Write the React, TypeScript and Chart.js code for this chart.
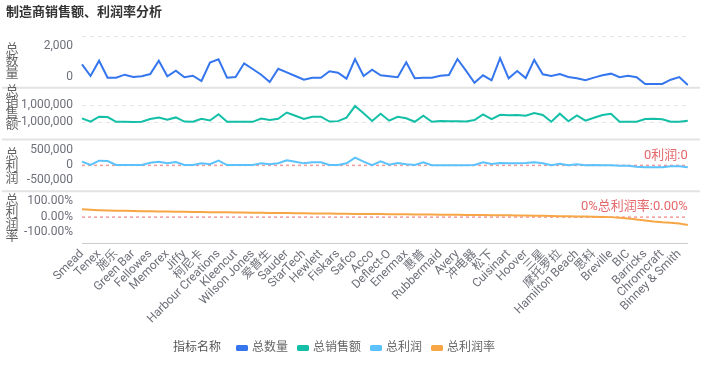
import React, { useEffect, useRef } from 'react';
import { Chart, registerables } from 'chart.js';

Chart.register(...registerables);

const FONT = "Roboto, 'Noto Sans CJK SC', sans-serif";

const chartTitle = '制造商销售额、利润率分析';
const legendTitle = '指标名称';

const categories = [
  'Smead', 'Eldon', 'Tenex', 'Novimex', '施乐', 'Hon', 'Green Bar', 'Bush', 'Fellowes', 'Office Star',
  'Memorex', '宜家', 'Jiffy', 'Stanley', '柯尼卡', '诺基亚', 'Harbour Creations', 'Sanford', 'Kleencut', '佳能',
  'Wilson Jones', 'Advantus', '爱普生', 'Ibico', 'Sauder', '飞利浦', 'StarTech', '苹果', 'Hewlett', 'Boston',
  'Fiskars', 'Elite', 'Safco', 'Acme', 'Acco', 'Dixon', 'Deflect-O', 'Kingston', 'Enermax', '惠而浦',
  '惠普', '夏普', 'Rubbermaid', '索尼', 'Avery', '兄弟', '冲电器', 'Logitech', '松下', 'Belkin',
  'Cuisinart', 'Rogers', 'Hoover', 'Cardinal', '三星', 'Global', '摩托罗拉', 'Dania', 'Hamilton Beach', 'Ames',
  '思科', 'Tennsco', 'Breville', 'Okidata', 'BIC', 'Lesro', 'Barricks', 'Eureka', 'Chromcraft', 'Martin Yale',
  'Binney & Smith', 'KitchenAid',
];

const seriesNames = ['总数量', '总销售额', '总利润', '总利润率'];
const seriesColors = ['#3576ee', '#13bfa6', '#5bc2fb', '#f7a646'];

const quantity = [
  905, 455, 1045, 390, 385, 505, 415, 445, 530, 1045,
  445, 660, 405, 465, 260, 970, 1100, 390, 415, 945,
  725, 505, 220, 735, 595, 455, 310, 390, 385, 635,
  580, 350, 1110, 455, 700, 480, 445, 405, 985, 365,
  390, 385, 465, 495, 1110, 660, 195, 480, 290, 1140,
  365, 645, 375, 1075, 520, 455, 530, 415, 365, 290,
  390, 480, 545, 405, 465, 405, 145, 145, 145, 310,
  415, 105,
];

const sales = [
  -545000, -940000, -360000, -395000, -955000, -950000, -960000, -945000, -620000, -450000,
  -700000, -440000, -925000, -935000, -600000, -800000, -70000, -930000, -945000, -935000,
  -950000, -570000, -740000, -590000, 130000, -240000, -610000, -370000, -355000, -925000,
  -870000, -465000, 880000, 35000, -860000, -15000, -820000, -360000, -545000, -945000,
  -240000, -940000, -860000, -890000, -895000, -900000, -740000, -80000, -630000, -130000,
  -200000, -160000, -240000, 70000, -160000, -940000, -10000, -890000, -200000, -820000,
  -475000, -160000, -10000, -940000, -945000, -935000, -630000, -590000, -660000, -940000,
  -945000, -820000,
];

const profit = [
  72000, 8000, 91000, 85000, 8000, 7000, 6000, 8000, 52000, 71000,
  40000, 66000, 7000, 8000, 41000, 21000, 92000, 6000, 7000, 6000,
  8000, 40000, 20000, 40000, 99000, 71000, 39000, 60000, 59000, 7000,
  7000, 40000, 149000, 72000, 6000, 79000, 14000, 46000, 21000, 6000,
  60000, 2000, 3000, 4000, 4000, 2000, 7000, 60000, 27000, 46000,
  40000, 40000, 46000, 60000, 40000, 2000, 33000, 2000, 21000, 2000,
  5000, 4000, 1000, -6000, -8000, -25000, -37000, -37000, -36000, -17000,
  -18000, -37000,
];

const profitRate = [
  0.3, 0.282, 0.268, 0.257, 0.249, 0.243, 0.236, 0.231, 0.226, 0.221,
  0.215, 0.211, 0.206, 0.201, 0.197, 0.193, 0.188, 0.184, 0.181, 0.176,
  0.172, 0.169, 0.164, 0.16, 0.157, 0.152, 0.149, 0.144, 0.141, 0.136,
  0.132, 0.129, 0.125, 0.122, 0.119, 0.116, 0.113, 0.11, 0.107, 0.104,
  0.101, 0.098, 0.095, 0.092, 0.089, 0.086, 0.083, 0.08, 0.077, 0.073,
  0.069, 0.065, 0.061, 0.056, 0.05, 0.044, 0.038, 0.032, 0.026, 0.02,
  0.014, 0.008, 0.0, -0.02, -0.05, -0.09, -0.13, -0.17, -0.2, -0.22,
  -0.25, -0.3,
];

const qtyTicks = [0, 2000];
const salesTicks = [-1000000, 1000000];
const profitTicks = [-500000, 0, 500000];
const rateTicks = [-1, 0, 1];

const fmtNum = (v: number) => v.toLocaleString('en-US');
const fmtPct = (v: number) => (v * 100).toFixed(2) + '%';

const panels = [
  { id: 'yQty', data: quantity, min: 0, max: 2000, ticks: qtyTicks, fmt: fmtNum, title: ['总', '数', '量'], titleShift: 0, titleStep: 12, grid: true },
  { id: 'ySales', data: sales, min: -3000000, max: 3000000, ticks: salesTicks, fmt: fmtNum, title: ['总', '销', '售', '额'], titleShift: -5, titleStep: 11, grid: true },
  { id: 'yProfit', data: profit, min: -500000, max: 500000, ticks: profitTicks, fmt: fmtNum, title: ['总', '利', '润'], titleShift: 1.5, titleStep: 12, grid: false },
  { id: 'yRate', data: profitRate, min: -1, max: 1, ticks: rateTicks, fmt: fmtPct, title: ['总', '利', '润', '率'], titleShift: 1.5, titleStep: 12, grid: false },
];

const markLines = [
  { axis: 'yProfit', label: '0利润:0' },
  { axis: 'yRate', label: '0%总利润率:0.00%' },
];

const panelPlugin = {
  id: 'panelDecor',
  beforeDatasetsDraw(chart: any) {
    const { ctx, chartArea: area } = chart;
    ctx.save();
    panels.slice(0, -1).forEach((p) => {
      const s = chart.scales[p.id];
      ctx.strokeStyle = '#e3e3e3';
      ctx.lineWidth = 2;
      ctx.setLineDash([]);
      ctx.beginPath();
      ctx.moveTo(2, s.bottom);
      ctx.lineTo(chart.width - 2, s.bottom);
      ctx.stroke();
    });
    markLines.forEach((m) => {
      const s = chart.scales[m.axis];
      const y = s.getPixelForValue(0);
      ctx.strokeStyle = '#f29a9a';
      ctx.lineWidth = 1.5;
      ctx.setLineDash([3, 3]);
      ctx.beginPath();
      ctx.moveTo(area.left, y);
      ctx.lineTo(area.right, y);
      ctx.stroke();
      ctx.setLineDash([]);
      ctx.font = `13px ${FONT}`;
      ctx.fillStyle = '#e5676a';
      ctx.textAlign = 'right';
      ctx.textBaseline = 'middle';
      ctx.fillText(m.label, area.right, y - 10);
    });
    ctx.restore();
  },
  afterDraw(chart: any) {
    const { ctx, chartArea: area } = chart;
    ctx.save();
    // title
    ctx.font = `bold 13px ${FONT}`;
    ctx.fillStyle = '#333';
    ctx.textAlign = 'left';
    ctx.textBaseline = 'middle';
    ctx.fillText(chartTitle, 6, 13);
    // y tick labels and axis titles
    panels.forEach((p) => {
      const s = chart.scales[p.id];
      ctx.font = `12px ${FONT}`;
      ctx.fillStyle = '#6e7079';
      ctx.textAlign = 'right';
      ctx.textBaseline = 'middle';
      p.ticks.forEach((v) => {
        let y = s.getPixelForValue(v);
        y = Math.min(Math.max(y, s.top + 10), s.bottom - 11);
        ctx.fillText(p.fmt(v), area.left - 9, y);
      });
      ctx.font = `13px ${FONT}`;
      ctx.fillStyle = '#666';
      ctx.textAlign = 'center';
      const cy = (s.top + s.bottom) / 2 + p.titleShift;
      const n = p.title.length;
      p.title.forEach((ch, j) => {
        ctx.fillText(ch, 12, cy + (j - (n - 1) / 2) * p.titleStep);
      });
    });
    // legend
    const ly = 348;
    let x = chart.width / 2 - 178;
    ctx.font = `12px ${FONT}`;
    ctx.textAlign = 'left';
    ctx.textBaseline = 'middle';
    ctx.fillStyle = '#555';
    ctx.fillText(legendTitle, x, ly);
    x += ctx.measureText(legendTitle).width + 15;
    seriesNames.forEach((name, i) => {
      ctx.fillStyle = seriesColors[i];
      ctx.beginPath();
      (ctx as any).roundRect(x, ly - 3, 12, 6, 1.5);
      ctx.fill();
      x += 16;
      ctx.fillStyle = '#666';
      ctx.fillText(name, x, ly);
      x += ctx.measureText(name).width + 9;
    });
    ctx.restore();
  },
};

export default function App() {
  const canvasRef = useRef<HTMLCanvasElement | null>(null);

  useEffect(() => {
    if (!canvasRef.current) return;
    const scales: any = {
      x: {
        type: 'category',
        grid: { display: false, drawTicks: false },
        border: { display: true, color: '#cccccc', width: 1 },
        ticks: {
          autoSkip: false,
          maxRotation: 45,
          minRotation: 45,
          padding: 4,
          color: '#6e7079',
          font: { family: FONT, size: 12 },
          callback: (_v: any, i: number) => (i % 2 === 0 ? categories[i] : ''),
        },
        afterFit: (s: any) => {
          s.height = 92;
        },
      },
    };
    panels.forEach((p, i) => {
      scales[p.id] = {
        type: 'linear',
        position: 'left',
        stack: 'panels',
        stackWeight: 1,
        weight: panels.length - i,
        min: p.min,
        max: p.max,
        afterBuildTicks: (s: any) => {
          s.ticks = p.ticks.map((v) => ({ value: v }));
        },
        ticks: { display: false },
        grid: { display: p.grid, color: '#e6e6e6', drawTicks: false, lineWidth: 1 },
        border: { display: false, dash: [4, 4] },
        afterFit: (s: any) => {
          s.width = 82;
        },
      };
    });

    const chart = new Chart(canvasRef.current, {
      type: 'line',
      data: {
        labels: categories,
        datasets: panels.map((p, i) => ({
          label: seriesNames[i],
          data: p.data,
          yAxisID: p.id,
          borderColor: seriesColors[i],
          backgroundColor: seriesColors[i],
          borderWidth: 2,
          pointRadius: 0,
          tension: 0,
          fill: false,
        })),
      },
      options: {
        responsive: false,
        animation: false,
        layout: { padding: { top: 36, right: 12, bottom: 40, left: 0 } },
        plugins: {
          legend: { display: false },
          title: { display: false },
          tooltip: { enabled: false },
        },
        scales,
      },
      plugins: [panelPlugin],
    });
    return () => chart.destroy();
  }, []);

  return (
    <div style={{ position: 'fixed', left: 0, top: 0, width: 702, height: 375, background: '#fff' }}>
      <canvas ref={canvasRef} width={702} height={375} style={{ display: 'block' }} />
    </div>
  );
}
